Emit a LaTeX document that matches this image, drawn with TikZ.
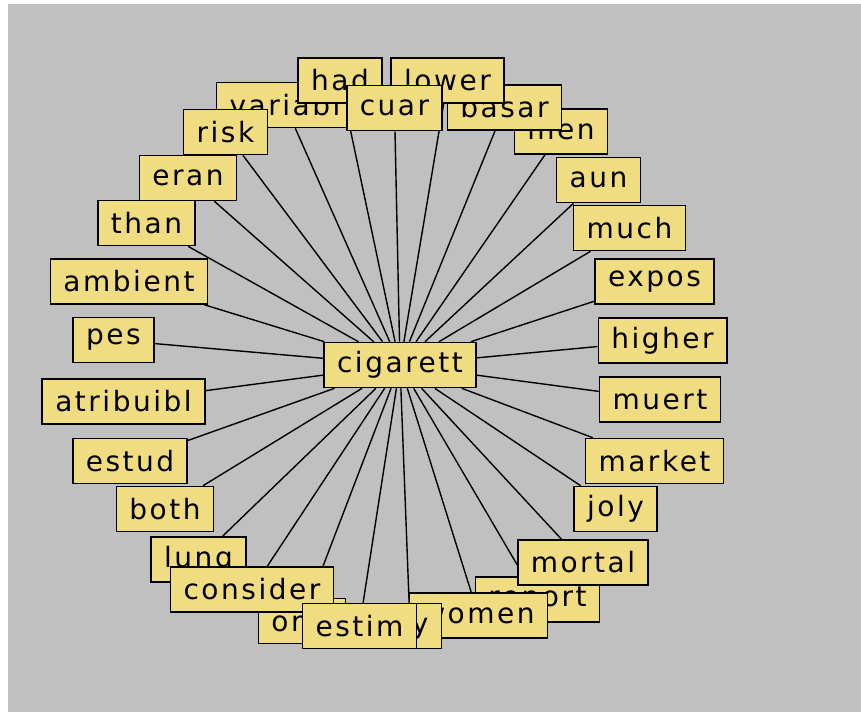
\documentclass[tikz,border=0pt]{standalone}
\usepackage{fontspec}
\setmainfont{DejaVu Sans}[LetterSpace=9]
\pgfdeclarelayer{bg}
\pgfsetlayers{bg,main}
\definecolor{boxfill}{RGB}{240,221,130}
\definecolor{panel}{RGB}{192,192,192}
\tikzset{
  word/.style={draw=black, line width=1.6pt, fill=boxfill, rectangle,
    inner xsep=13pt, inner ysep=0pt, minimum height=45pt,
    font=\fontsize{28}{30}\selectfont},
  link/.style={line width=1.4pt}
}
\begin{document}
\begin{tikzpicture}[x=1pt, y=-1pt]
        \useasboundingbox (0,0) rectangle (861,712);
        \begin{pgfonlayer}{bg}
            \fill[white] (0,0) rectangle (861,712);
            \fill[panel] (8,4) rectangle (861,712);
        \end{pgfonlayer}

        \node[word] (cig) at (400,365) {cigarett};

        \node[word] (variabl) at (285,105) {variabl};
        \node[word] (risk) at (225.5,132) {risk};
        \node[word] (men) at (561,131.5) {men};
        \node[word] (basar) at (504.5,107.5) {basar};
        \node[word] (lower) at (447.5,80.5) {lower};
        \node[word] (had) at (340,80.5) {had};
        \node[word] (cuar) at (394.5,108) {cuar};

        \node[word] (eran) at (188,178) {eran};
        \node[word] (than) at (146.5,223) {than};
        \node[word] (ambient) at (129,281.5) {ambient};
        \node[word] (pes) at (113.5,340) {pes};
        \node[word] (atribuibl) at (123.5,401.5) {atribuibl};
        \node[word] (estud) at (130,461) {estud};
        \node[word] (both) at (165,509) {both};

        \node[word] (lung) at (198.5,559.5) {lung};
        \node[word] (oral) at (302,621) {oral};
        \node[word] (consider) at (252,589.5) {consider};
        \node[word] (report) at (537.5,599.5) {report};
        \node[word] (women) at (478.5,615.5) {women};
        \node[word] (mortal) at (583,562.5) {mortal};
        \node[word] (by) at (410,626) {by};
        \node[word] (estim) at (359.5,626) {estim};

        \node[word] (joly) at (615.5,509) {joly};
        \node[word] (market) at (654.5,461) {market};
        \node[word] (muert) at (660,399.5) {muert};
        \node[word] (higher) at (662.5,340.5) {higher};
        \node[word] (expos) at (654.5,281.5) {expos};
        \node[word] (much) at (629.5,228) {much};
        \node[word] (aun) at (598.5,180) {aun};

        % spokes from the centre word, kept under the boxes
        \begin{pgfonlayer}{bg}
            \foreach \w in {variabl,risk,men,basar,lower,had,cuar,eran,than,
                ambient,pes,atribuibl,estud,both,lung,oral,consider,report,
                women,mortal,by,estim,joly,market,muert,higher,expos,much,aun}
                \draw[link] (cig) -- (\w);
        \end{pgfonlayer}
\end{tikzpicture}
\end{document}
